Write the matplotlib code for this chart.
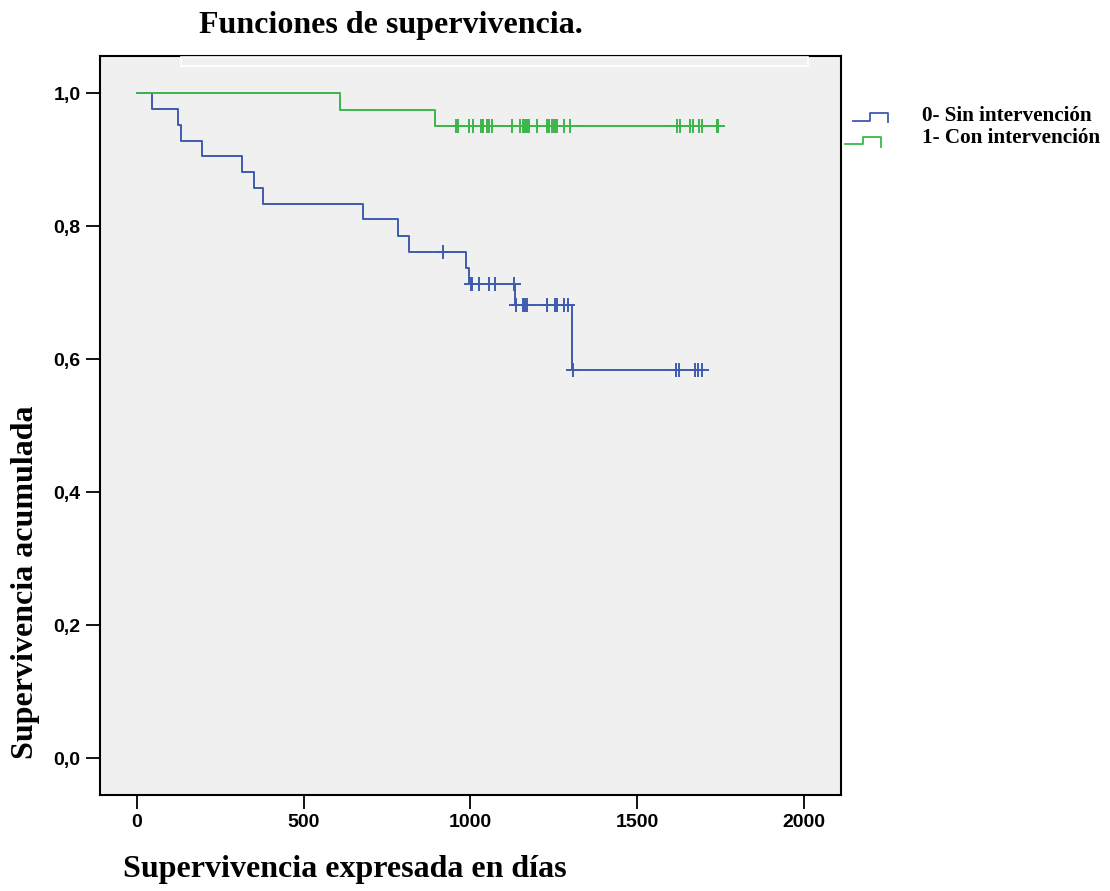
import numpy as np
import matplotlib.pyplot as plt
from matplotlib.lines import Line2D
from matplotlib.patches import Rectangle
from matplotlib.ticker import FuncFormatter

# Kaplan-Meier steps (days, cumulative survival)
sin_times = [0, 46, 125, 133, 195, 316, 351, 380, 679, 783, 816, 986, 995, 1133, 1305]
sin_surv = [1.0, 0.976, 0.952, 0.928, 0.905, 0.881, 0.857, 0.833, 0.811,
            0.785, 0.761, 0.738, 0.713, 0.681, 0.584]
sin_censored = [917, 1001, 1006, 1027, 1056, 1074, 1130, 1136, 1159, 1164, 1171,
                1231, 1255, 1259, 1282, 1294, 1309, 1616, 1626, 1673, 1683, 1695]

con_times = [0, 609, 893]
con_surv = [1.0, 0.975, 0.951]
con_censored = [957, 963, 997, 1007, 1033, 1039, 1051, 1057, 1065, 1125, 1149,
                1157, 1163, 1167, 1171, 1177, 1199, 1231, 1237, 1245, 1251, 1255,
                1261, 1281, 1298, 1618, 1629, 1659, 1667, 1684, 1694, 1738, 1742]

x_ticks = [0, 500, 1000, 1500, 2000]
y_ticks = [0.0, 0.2, 0.4, 0.6, 0.8, 1.0]

blue = "#3F5BAE"
green = "#3CB64A"
serif = "Liberation Serif"


def survival_at(times, surv, t):
    idx = np.searchsorted(times, t, side="right") - 1
    return np.asarray(surv)[idx]


fig = plt.figure(figsize=(11.1, 8.91), dpi=100)
W, H = 1110, 891
ax = fig.add_axes([100 / W, 1 - 795 / H, (841 - 100) / W, (795 - 56) / H])
ax.set_facecolor("#F0F0F0")

for times, surv, cens, col in [(sin_times, sin_surv, sin_censored, blue),
                               (con_times, con_surv, con_censored, green)]:
    t = np.array(times + [max(cens)])
    s = np.array(surv + [surv[-1]])
    ax.step(t, s, where="post", color=col, lw=1.4)
    ax.plot(cens, survival_at(times, surv, cens), ls="none", marker="+",
            ms=9.5, mew=1.4, color=col)

ax.set_xlim(-110, 2111)
ax.set_ylim(-0.055, 1.056)
ax.set_xticks(x_ticks)
ax.set_yticks(y_ticks)
ax.yaxis.set_major_formatter(FuncFormatter(lambda v, p: f"{v:.1f}".replace(".", ",")))
for sp in ax.spines.values():
    sp.set_linewidth(1.5)
ax.tick_params(direction="out", length=10, width=1.3, pad=4)
for lab in ax.get_xticklabels() + ax.get_yticklabels():
    lab.set_fontfamily("Liberation Sans")
    lab.set_fontweight("bold")
    lab.set_fontsize(14)

# faint white border near the top of the frame, as in the original export
fig.add_artist(Rectangle((181 / W, 1 - 66 / H), (808 - 181) / W, 9 / H,
                         fill=False, edgecolor="white", lw=1.2))

fig.text(391 / W, 1 - 25 / H, "Funciones de supervivencia.", family=serif,
         weight="bold", fontsize=23, ha="center", va="center")
fig.text(345 / W, 1 - 870 / H, "Supervivencia expresada en días", family=serif,
         weight="bold", fontsize=23, ha="center", va="center")
fig.text(26 / W, 1 - 582 / H, "Supervivencia acumulada", family=serif,
         weight="bold", fontsize=23, ha="center", va="center", rotation=90)

# legend drawn by hand (SPSS-style step glyphs)
def glyph(x0, y_low, x_mid, y_high, x1, y_end, col):
    xs = np.array([x0, x_mid, x_mid, x1, x1]) / W
    ys = 1 - np.array([y_low, y_low, y_high, y_high, y_end]) / H
    fig.add_artist(Line2D(xs, ys, color=col, lw=1.3))


glyph(852.7, 121, 870, 113.3, 888.3, 122.3, blue)
glyph(845, 144.3, 862.7, 137.3, 880.7, 146.7, green)
fig.text(921.7 / W, 1 - 121 / H, "0- Sin intervención", family=serif,
         weight="bold", fontsize=15.2, ha="left", va="baseline")
fig.text(921.7 / W, 1 - 143 / H, "1- Con intervención", family=serif,
         weight="bold", fontsize=15.2, ha="left", va="baseline")

fig.savefig("out.png", dpi=100)
